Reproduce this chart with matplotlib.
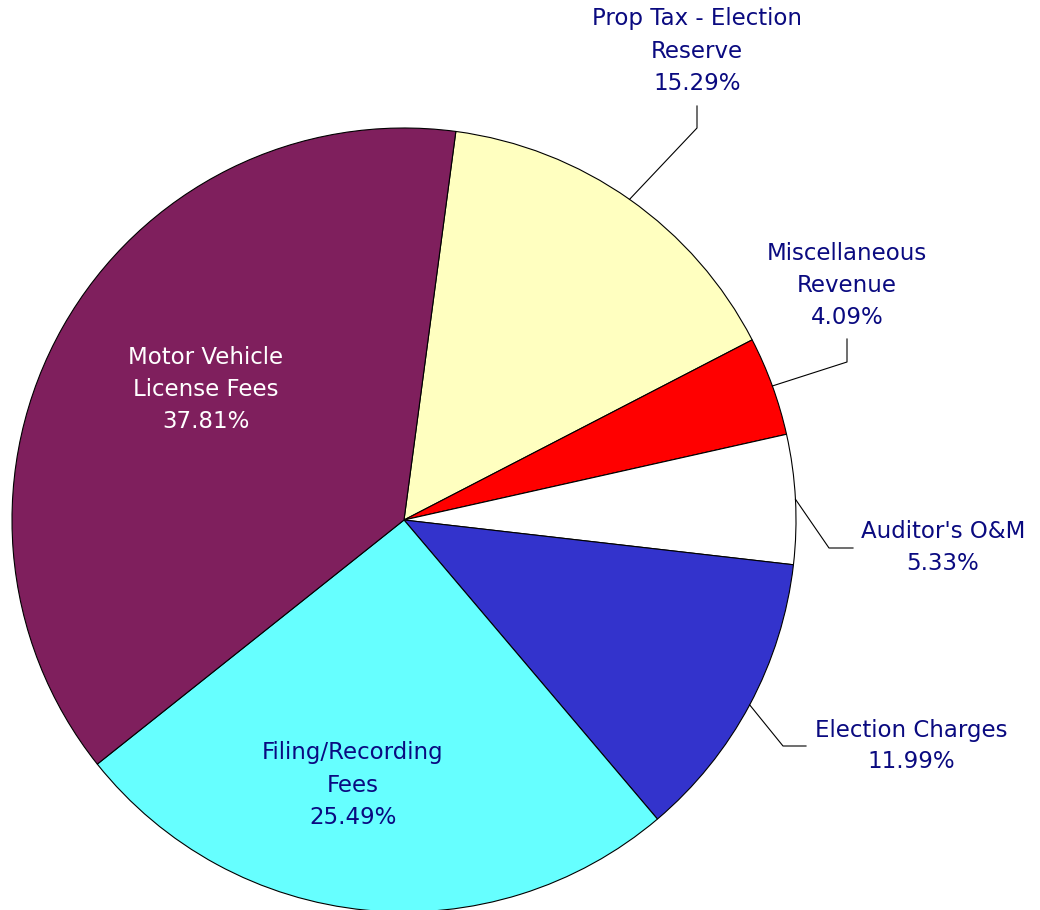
import numpy as np
import matplotlib
matplotlib.use('Agg')
import matplotlib.pyplot as plt

labels = ['Prop Tax - Election\nReserve', 'Miscellaneous\nRevenue', "Auditor's O&M",
          'Election Charges', 'Filing/Recording\nFees', 'Motor Vehicle\nLicense Fees']
shares = [15.29, 4.09, 5.33, 11.99, 25.49, 37.81]
colors = ['#FFFFC0', '#FF0000', '#FFFFFF', '#3333CC', '#66FFFF', '#7F1F5D']

navy = '#0A0A80'
W, H = 1040, 910
cx, cy, r = 404, H - 520, 392

fig = plt.figure(figsize=(10.4, 9.1), dpi=100)
ax = fig.add_axes([0, 0, 1, 1])

wedges, _ = ax.pie(shares, colors=colors, startangle=82.4, counterclock=False,
                   center=(cx, cy), radius=r, frame=True,
                   wedgeprops=dict(edgecolor='black', linewidth=0.8))
ax.set_xlim(0, W)
ax.set_ylim(0, H)
ax.set_aspect('equal')
ax.axis('off')

# outside labels: elbow point, end of short segment, text centre (pixels from top-left)
outside = {
    0: dict(elbow=(697, 128), end=(697, 106), txt=(697, 51)),
    1: dict(elbow=(847, 362), end=(847, 339), txt=(847, 286)),
    2: dict(elbow=(829, 548), end=(853, 548), txt=(943, 548)),
    3: dict(elbow=(783, 746), end=(806, 746), txt=(911, 746)),
}
inside = {4: (353, 785), 5: (206, 389)}

fs = 16.5
ls = 1.5
for i, w in enumerate(wedges):
    text = f'{labels[i]}\n{shares[i]:.2f}%'
    if i in outside:
        mid = np.deg2rad((w.theta1 + w.theta2) / 2)
        ex, ey = cx + r * np.cos(mid), cy + r * np.sin(mid)
        o = outside[i]
        xs = [ex, o['elbow'][0], o['end'][0]]
        ys = [ey, H - o['elbow'][1], H - o['end'][1]]
        ax.plot(xs, ys, color='black', lw=0.8)
        ax.text(o['txt'][0], H - o['txt'][1], text, ha='center', va='center',
                color=navy, fontsize=fs, linespacing=ls)
    else:
        tx, ty = inside[i]
        ax.text(tx, H - ty, text, ha='center', va='center',
                color='white' if i == 5 else navy, fontsize=fs, linespacing=ls)

fig.savefig('out.png', dpi=100)
